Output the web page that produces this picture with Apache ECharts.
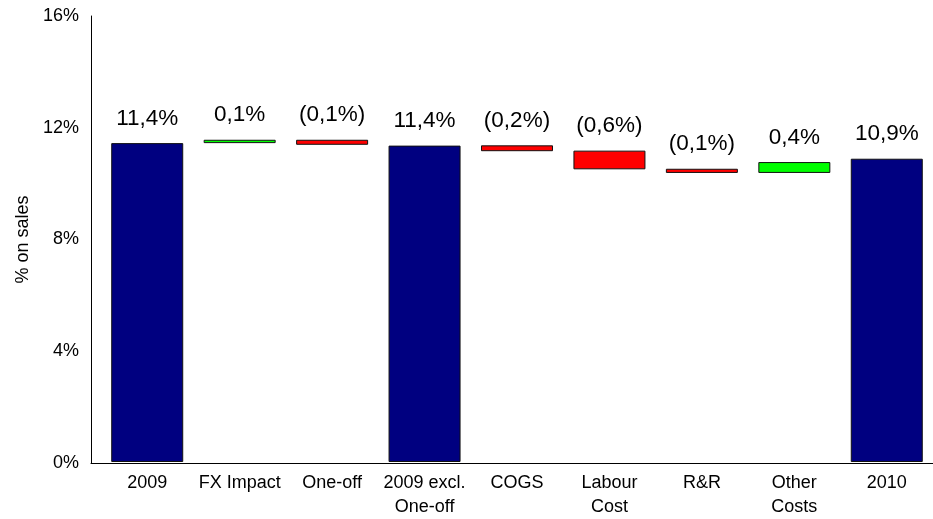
<!DOCTYPE html>
<html>
<head>
<meta charset="utf-8">
<script src="https://cdn.jsdelivr.net/npm/echarts@6/dist/echarts.min.js"></script>
<style>
html,body{margin:0;padding:0;background:#fff;}
#c{width:933px;height:519px;}
</style>
</head>
<body>
<div id="c"></div>
<script>
// Data
const categories = ['2009', 'FX Impact', 'One-off', '2009 excl.\nOne-off', 'COGS', 'Labour\nCost', 'R&R', 'Other\nCosts', '2010'];
const barStart = [0, 11.44, 11.56, 0, 11.36, 11.17, 10.52, 10.37, 0];
const barEnd = [11.44, 11.56, 11.38, 11.35, 11.15, 10.50, 10.37, 10.76, 10.88];
const barKind = ['total', 'up', 'down', 'total', 'down', 'down', 'down', 'up', 'total'];
const valueLabels = ['11,4%', '0,1%', '(0,1%)', '11,4%', '(0,2%)', '(0,6%)', '(0,1%)', '0,4%', '10,9%'];
const yTicks = { min: 0, max: 16, interval: 4 };

const kindColor = { total: '#000080', up: '#00FF00', down: '#FF0000' };
const FONT = 'Liberation Sans, Arial, sans-serif';

const baseData = categories.map((c, i) => Math.min(barStart[i], barEnd[i]));
const visData = categories.map((c, i) => ({
  value: Math.abs(barEnd[i] - barStart[i]),
  itemStyle: { color: kindColor[barKind[i]] },
  label: { formatter: valueLabels[i] }
}));

const chart = echarts.init(document.getElementById('c'), null, { renderer: 'canvas' });
chart.setOption({
  animation: false,
  backgroundColor: '#fff',
  textStyle: { fontFamily: FONT },
  grid: [
    { left: 91, right: 0, top: 16, bottom: 56 },
    { left: 101, width: 833, top: 16, bottom: 56 }
  ],
  xAxis: [
    {
      gridIndex: 0, type: 'category', data: categories,
      axisLine: { show: true, lineStyle: { color: '#000', width: 1 } },
      axisTick: { show: false }, axisLabel: { show: false }, splitLine: { show: false }
    },
    {
      gridIndex: 1, type: 'category', data: categories,
      axisLine: { show: false }, axisTick: { show: false },
      axisLabel: { color: '#000', fontSize: 18, fontFamily: FONT, margin: 9, lineHeight: 24, interval: 0 }
    }
  ],
  yAxis: [
    {
      gridIndex: 0, type: 'value', min: yTicks.min, max: yTicks.max, interval: yTicks.interval,
      name: '% on sales', nameLocation: 'middle', nameGap: 53,
      nameTextStyle: { color: '#000', fontSize: 18, fontFamily: FONT },
      axisLine: { show: true, lineStyle: { color: '#000', width: 1 } },
      axisTick: { show: false }, splitLine: { show: false },
      axisLabel: { color: '#000', fontSize: 18, fontFamily: FONT, margin: 12, formatter: '{value}%' }
    },
    {
      gridIndex: 1, type: 'value', min: yTicks.min, max: yTicks.max, interval: yTicks.interval,
      show: false, splitLine: { show: false }
    }
  ],
  series: [
    {
      type: 'bar', xAxisIndex: 1, yAxisIndex: 1, stack: 'w', barWidth: 72,
      data: baseData, itemStyle: { color: 'transparent' }, silent: true
    },
    {
      type: 'bar', xAxisIndex: 1, yAxisIndex: 1, stack: 'w', barWidth: 72,
      data: visData,
      itemStyle: { borderColor: '#111', borderWidth: 1 },
      label: { show: true, position: 'top', distance: 13, color: '#000', fontSize: 22.5, fontFamily: FONT }
    }
  ]
});
</script>
</body>
</html>
